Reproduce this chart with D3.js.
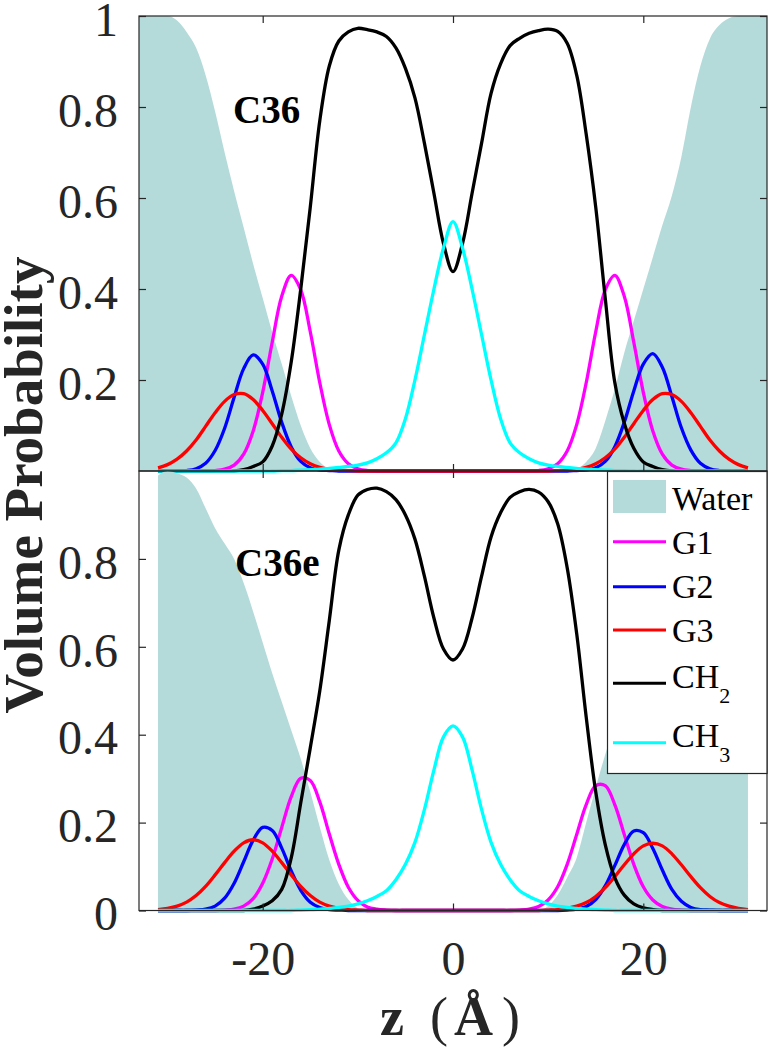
<!DOCTYPE html>
<html><head><meta charset="utf-8">
<script src="https://cdn.jsdelivr.net/npm/d3@7"></script>
<style>
body{margin:0;background:#fff}
svg{display:block}
text{font-family:'Liberation Serif','Times New Roman',serif}
</style>
</head><body>
<svg id="c" width="769" height="1050"></svg>
<script>
// ---------------- data ----------------
const xTicks = [-20, 0, 20];
const yTicksTop = [0.2, 0.4, 0.6, 0.8, 1];
const yTicksBottom = [0, 0.2, 0.4, 0.6, 0.8];
const panelLabels = ["C36", "C36e"];
const seriesNames = ["G1", "G2", "G3", "CH2", "CH3"];
const seriesLegend = [["G1", ""], ["G2", ""], ["G3", ""], ["CH", "2"], ["CH", "3"]];
const waterName = "Water";

// z grid (Å)
const zLines = d3.range(-31, 32);      // -31 ... 31
const zWaterTop = d3.range(-33, 34);   // -33 ... 33
const zWaterBottom = d3.range(-31, 32);

// ---- C36 (top panel) ----
const waterC36 = [1,1,1,1,
 0.99,0.965,0.93,0.87,0.79,0.70,0.615,0.535,0.455,0.38,0.305,0.235,0.165,0.10,0.05,0.02,0.005,0.001,
 0,0,0,0,0,0,0,0,0,0,0,0,0,0,0,0,0,0,0,0,0,0,0,
 0.001,0.005,0.02,0.05,0.11,0.18,0.26,0.33,0.40,0.47,0.54,0.605,0.69,0.80,0.89,0.95,0.98,0.995,
 1,1,1,1];
const g1C36 = [0,0,0,0,0,0,
 0.001,0.004,0.013,0.037,0.088,0.173,0.283,0.384,0.43,0.398,0.306,0.194,0.102,0.044,0.016,0.005,0.001,
 0,0,0,0,0,0,0,0,0,0,0,0,0,0,0,0,0,
 0.001,0.005,0.016,0.044,0.102,0.194,0.306,0.398,0.43,0.384,0.283,0.173,0.088,0.037,0.013,0.004,0.001,
 0,0,0,0,0,0];
const g2C36 = [0,0,0,
 0.001,0.005,0.017,0.045,0.094,0.162,0.225,0.255,0.235,0.176,0.107,0.053,0.021,0.007,0.002,0.001,
 0,0,0,0,0,0,0,0,0,0,0,0,0,0,0,0,0,0,0,0,0,0,0,0,0,
 0.001,0.002,0.007,0.021,0.053,0.107,0.176,0.235,0.258,0.228,0.164,0.095,0.046,0.017,0.005,0.001,
 0,0,0];
const g3C36 = [0.007,0.014,0.026,0.044,0.068,0.098,0.128,0.153,0.168,0.170,0.157,0.133,0.104,0.074,0.048,0.029,0.016,0.008,0.004,0.002,0.001,
 0,0,0,0,0,0,0,0,0,0,0,0,0,0,0,0,0,0,0,0,0,
 0.001,0.002,0.004,0.008,0.016,0.029,0.048,0.074,0.104,0.133,0.157,0.170,0.168,0.153,0.128,0.098,0.068,0.044,0.026,0.014,0.007];
const ch2C36 = [0,0,0,0,0,0,0,0,0,
 0.003,0.01,0.02,0.055,0.125,0.24,0.40,0.58,0.77,0.89,0.945,0.965,0.973,0.97,0.965,0.955,0.93,0.885,0.82,0.72,0.61,0.50,
 0.438,
 0.50,0.61,0.72,0.83,0.895,0.935,0.951,0.962,0.968,0.971,0.966,0.94,0.87,0.74,0.58,0.38,0.195,0.105,0.05,0.02,0.01,0.003,
 0,0,0,0,0,0,0,0,0];
const ch3C36 = [0,0,0,0,0,0,0,0,0,0,0,0,0,
 0.001,0.001,0.002,0.003,0.004,0.006,0.008,0.01,0.013,0.018,0.027,0.04,0.062,0.115,0.20,0.30,0.40,0.49,
 0.548,
 0.49,0.40,0.30,0.20,0.115,0.062,0.04,0.027,0.018,0.013,0.01,0.008,0.006,0.004,0.003,0.002,0.001,0.001,
 0,0,0,0,0,0,0,0,0,0,0,0,0];

// ---- C36e (bottom panel) ----
const waterC36e = [0.99,1.0,0.995,0.985,0.96,0.915,0.87,0.835,0.80,0.745,0.68,0.61,0.54,0.475,0.41,0.345,0.27,0.19,0.115,0.06,0.025,0.005,
 0,0,0,0,0,0,0,0,0,0,0,0,0,0,0,0,0,0,0,
 0.01,0.035,0.075,0.12,0.20,0.28,0.355,0.425,0.49,0.55,0.615,0.68,0.745,0.80,0.84,0.875,0.915,0.96,0.985,0.995,1.0,0.99];
const g1C36e = [0,0,0,0,0,0,0,
 0.001,0.003,0.010,0.027,0.062,0.117,0.189,0.259,0.301,0.296,0.247,0.174,0.105,0.053,0.023,0.008,0.003,0.001,
 0,0,0,0,0,0,0,0,0,0,0,0,0,
 0.001,0.003,0.009,0.024,0.054,0.105,0.173,0.241,0.284,0.284,0.241,0.173,0.105,0.054,0.024,0.009,0.003,0.001,
 0,0,0,0,0,0,0];
const g2C36e = [0,0,0,0,
 0.001,0.003,0.010,0.028,0.062,0.111,0.160,0.189,0.182,0.142,0.090,0.046,0.019,0.007,0.002,0.001,
 0,0,0,0,0,0,0,0,0,0,0,0,0,0,0,0,0,0,0,0,0,0,0,
 0.001,0.003,0.009,0.025,0.056,0.102,0.150,0.181,0.177,0.141,0.092,0.048,0.021,0.007,0.002,0.001,
 0,0,0,0];
const g3C36e = [0.002,0.005,0.010,0.019,0.034,0.055,0.081,0.109,0.135,0.154,0.161,0.154,0.135,0.109,0.081,0.055,0.034,0.019,0.010,0.005,0.002,0.001,
 0,0,0,0,0,0,0,0,0,0,0,0,0,0,0,0,0,0,0,
 0.001,0.002,0.005,0.010,0.018,0.032,0.052,0.077,0.104,0.129,0.147,0.153,0.147,0.129,0.104,0.077,0.052,0.032,0.018,0.010,0.005,0.002];
const ch2C36e = [0,0,0,0,0,0,0,0,0,0,
 0.003,0.01,0.022,0.048,0.12,0.245,0.37,0.50,0.66,0.82,0.90,0.945,0.958,0.961,0.953,0.935,0.90,0.845,0.76,0.665,0.595,
 0.57,
 0.595,0.665,0.76,0.85,0.905,0.94,0.953,0.958,0.952,0.93,0.88,0.78,0.63,0.44,0.27,0.15,0.075,0.035,0.015,0.006,0.002,
 0,0,0,0,0,0,0,0,0,0];
const ch3C36e = [0,0,0,0,0,0,0,0,0,0,0,0,0,0,0,
 0.001,0.002,0.003,0.005,0.007,0.01,0.015,0.022,0.032,0.045,0.07,0.105,0.155,0.23,0.32,0.395,
 0.42,
 0.395,0.32,0.23,0.155,0.105,0.07,0.045,0.032,0.022,0.015,0.01,0.007,0.005,0.003,0.002,0.001,
 0,0,0,0,0,0,0,0,0,0,0,0,0,0,0];

// ---------------- styles ----------------
const seriesColors = ["#ff00ff", "#0000ff", "#ff0000", "#000000", "#00ffff"];
const waterColor = "#b4dbda";
const axisColor = "#262626";

// ---------------- layout ----------------
const svg = d3.select("#c");
const x = d3.scaleLinear().domain([-33, 33]).range([139, 767]);

const panels = [
  {label: panelLabels[0], y: d3.scaleLinear().domain([0, 1]).range([471, 16]),
   waterZ: zWaterTop, water: waterC36, series: [g1C36, g2C36, g3C36, ch2C36, ch3C36],
   yTicks: yTicksTop, showX: false, labelPos: [233, 123]},
  {label: panelLabels[1], y: d3.scaleLinear().domain([0, 1]).range([910.5, 471]),
   waterZ: zWaterBottom, water: waterC36e, series: [g1C36e, g2C36e, g3C36e, ch2C36e, ch3C36e],
   yTicks: yTicksBottom, showX: true, labelPos: [235, 576]}
];

const fmt = d => d === 0 ? "0" : d === 1 ? "1" : d3.format(".1f")(d);
const xfmt = d => String(d);

panels.forEach(p => {
  const y = p.y;
  const clampY = v => y(Math.max(0, v));
  const g = svg.append("g");
  // water area
  g.append("path")
    .datum(p.waterZ.map((z, i) => [z, p.water[i]]))
    .attr("fill", waterColor)
    .attr("d", d3.area().x(d => x(d[0])).y0(y(0)).y1(d => clampY(d[1])).curve(d3.curveMonotoneX));
  // lines
  p.series.forEach((vals, si) => {
    g.append("path")
      .datum(zLines.map((z, i) => [z, vals[i]]))
      .attr("fill", "none")
      .attr("stroke", seriesColors[si])
      .attr("stroke-width", 3.3)
      .attr("stroke-linejoin", "round")
      .attr("d", d3.line().x(d => x(d[0])).y(d => clampY(d[1])).curve(d3.curveCatmullRom.alpha(0.5)));
  });
  // panel label
  g.append("text").attr("x", p.labelPos[0]).attr("y", p.labelPos[1])
    .attr("font-size", 39).attr("font-weight", "bold").attr("fill", "#000").text(p.label);

  const [y0, y1] = y.range();
  // box
  g.append("rect").attr("x", x.range()[0]).attr("y", y1)
    .attr("width", x.range()[1] - x.range()[0]).attr("height", y0 - y1)
    .attr("fill", "none").attr("stroke", axisColor).attr("stroke-width", 1.2);

  const style = sel => {
    sel.select(".domain").remove();
    sel.selectAll(".tick line").attr("stroke", axisColor).attr("stroke-width", 1.2);
    sel.selectAll("text").attr("font-size", 48).attr("fill", axisColor)
      .attr("font-family", "'Liberation Serif','Times New Roman',serif");
  };
  // left axis
  g.append("g").attr("transform", `translate(${x.range()[0]},0)`)
    .call(d3.axisLeft(y).tickValues(p.yTicks).tickFormat(fmt).tickSize(-7).tickPadding(21))
    .call(style)
    .call(s => s.selectAll("text").attr("dy", "0.4em"));
  // right axis
  g.append("g").attr("transform", `translate(${x.range()[1]},0)`)
    .call(d3.axisRight(y).tickValues(p.yTicks).tickFormat("").tickSize(-7))
    .call(style);
  // top axis
  g.append("g").attr("transform", `translate(0,${y1})`)
    .call(d3.axisTop(x).tickValues(xTicks).tickFormat("").tickSize(-7))
    .call(style);
  // bottom axis
  g.append("g").attr("transform", `translate(0,${y0})`)
    .call(d3.axisBottom(x).tickValues(xTicks).tickFormat(p.showX ? xfmt : "").tickSize(-7).tickPadding(30))
    .call(style);
});

// legend (bottom panel, top-right)
const lg = svg.append("g");
lg.append("rect").attr("x", 607.5).attr("y", 471.5).attr("width", 159.5).attr("height", 302)
  .attr("fill", "#fff").attr("stroke", axisColor).attr("stroke-width", 1.2);
lg.append("rect").attr("x", 613).attr("y", 480).attr("width", 53).attr("height", 33).attr("fill", waterColor);
lg.append("text").attr("x", 672).attr("y", 510).attr("font-size", 34).attr("fill", "#000").text(waterName);
const rowY = [541.7, 586.7, 630, 683.3, 742.7];
const textY = [554, 598, 642, 688, 747];
seriesLegend.forEach((lab, i) => {
  lg.append("line").attr("x1", 613).attr("x2", 666).attr("y1", rowY[i]).attr("y2", rowY[i])
    .attr("stroke", seriesColors[i]).attr("stroke-width", 3);
  const t = lg.append("text").attr("x", 672).attr("y", textY[i]).attr("font-size", 34).attr("fill", "#000");
  t.append("tspan").text(lab[0]);
  if (lab[1]) t.append("tspan").attr("font-size", 22).attr("dy", 15).text(lab[1]);
});

// axis labels
svg.append("text")
  .attr("transform", "translate(42,485) rotate(-90)")
  .attr("text-anchor", "middle").attr("font-size", 55).attr("font-weight", "bold").attr("fill", "#262626")
  .text("Volume Probability");

const xl = svg.append("text").attr("y", 1035).attr("font-size", 54).attr("fill", "#262626");
xl.append("tspan").attr("x", 380).attr("font-weight", "bold").text("z");
xl.append("tspan").attr("x", 430).text("(");
xl.append("tspan").attr("x", 454).attr("font-weight", "bold").text("Å");
xl.append("tspan").attr("x", 502).text(")");
</script>
</body></html>
